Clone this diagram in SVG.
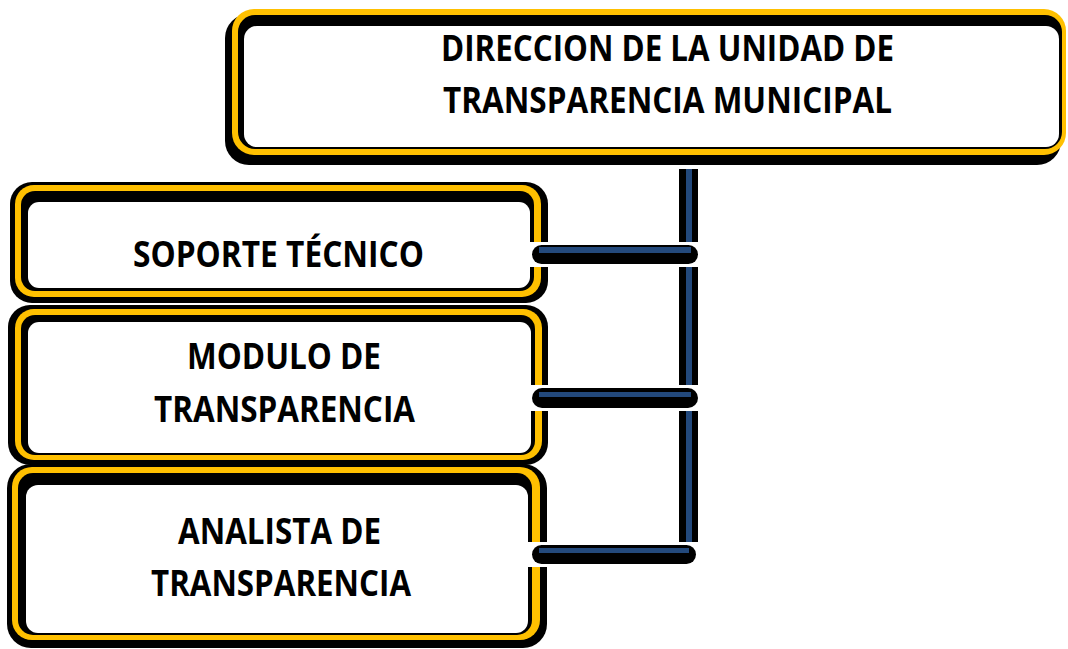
<svg xmlns="http://www.w3.org/2000/svg" width="1068" height="649" viewBox="0 0 1068 649">
<style>
.shadow{fill:#000}
.ring{fill:#FFC000}
.inner{fill:#000}
.face{fill:#fff}
.label{font-family:"Open Sans","Noto Sans","Liberation Sans",sans-serif;font-weight:700;font-size:35px;fill:#000}
.halo{fill:#fff}
.bar{fill:#000}
.core{fill:#23497c}
</style>
<rect width="1068" height="649" fill="#fff"/>
<g id="node-direccion">
<rect class="shadow" x="225" y="14" width="836" height="151" rx="24"/>
<rect class="ring" x="232" y="9" width="834" height="146" rx="22"/>
<rect class="inner" x="238" y="15" width="824" height="134" rx="17"/>
<rect class="face" x="244" y="26" width="815" height="121" rx="13"/>
<text class="label" x="441" y="61" textLength="453" lengthAdjust="spacingAndGlyphs">DIRECCION DE LA UNIDAD DE</text>
<text class="label" x="443" y="113" textLength="449" lengthAdjust="spacingAndGlyphs">TRANSPARENCIA MUNICIPAL</text>
</g>
<g id="node-soporte">
<rect class="shadow" x="10" y="182" width="538" height="121" rx="22"/>
<rect class="ring" x="15" y="185" width="526" height="112" rx="19"/>
<rect class="inner" x="21" y="191" width="513" height="100" rx="14"/>
<rect class="face" x="28" y="202" width="502" height="86" rx="11"/>
<text class="label" x="133" y="267" textLength="291" lengthAdjust="spacingAndGlyphs">SOPORTE TÉCNICO</text>
</g>
<g id="node-modulo">
<rect class="shadow" x="8" y="305" width="540" height="160" rx="22"/>
<rect class="ring" x="15" y="309" width="527" height="151" rx="19"/>
<rect class="inner" x="21" y="315" width="514" height="140" rx="14"/>
<rect class="face" x="28" y="322" width="503" height="131" rx="11"/>
<text class="label" x="187" y="369" textLength="194" lengthAdjust="spacingAndGlyphs">MODULO DE</text>
<text class="label" x="154" y="422" textLength="261" lengthAdjust="spacingAndGlyphs">TRANSPARENCIA</text>
</g>
<g id="node-analista">
<rect class="shadow" x="7" y="464" width="540" height="184" rx="24"/>
<rect class="ring" x="12" y="467" width="528" height="173" rx="20"/>
<rect class="inner" x="18" y="473" width="514" height="162" rx="15"/>
<rect class="face" x="26" y="485" width="502" height="148" rx="12"/>
<text class="label" x="178" y="544" textLength="203" lengthAdjust="spacingAndGlyphs">ANALISTA DE</text>
<text class="label" x="151" y="596" textLength="260" lengthAdjust="spacingAndGlyphs">TRANSPARENCIA</text>
</g>
<g id="connectors">
<rect class="bar" x="679" y="169" width="19" height="373"/>
<rect class="core" x="686" y="169" width="6" height="373"/>
<rect class="halo" x="529" y="242" width="172" height="25"/>
<rect class="bar" x="532" y="245" width="166" height="19" rx="9.5"/>
<rect class="core" x="539" y="247" width="152" height="6"/>
<rect class="halo" x="529" y="385" width="172" height="26"/>
<rect class="bar" x="532" y="388" width="166" height="20" rx="10"/>
<rect class="core" x="539" y="392" width="152" height="5"/>
<rect class="halo" x="528" y="542" width="172" height="25"/>
<rect class="bar" x="532" y="545" width="164" height="19" rx="9.5"/>
<rect class="core" x="539" y="548" width="150" height="5"/>
</g>
</svg>
